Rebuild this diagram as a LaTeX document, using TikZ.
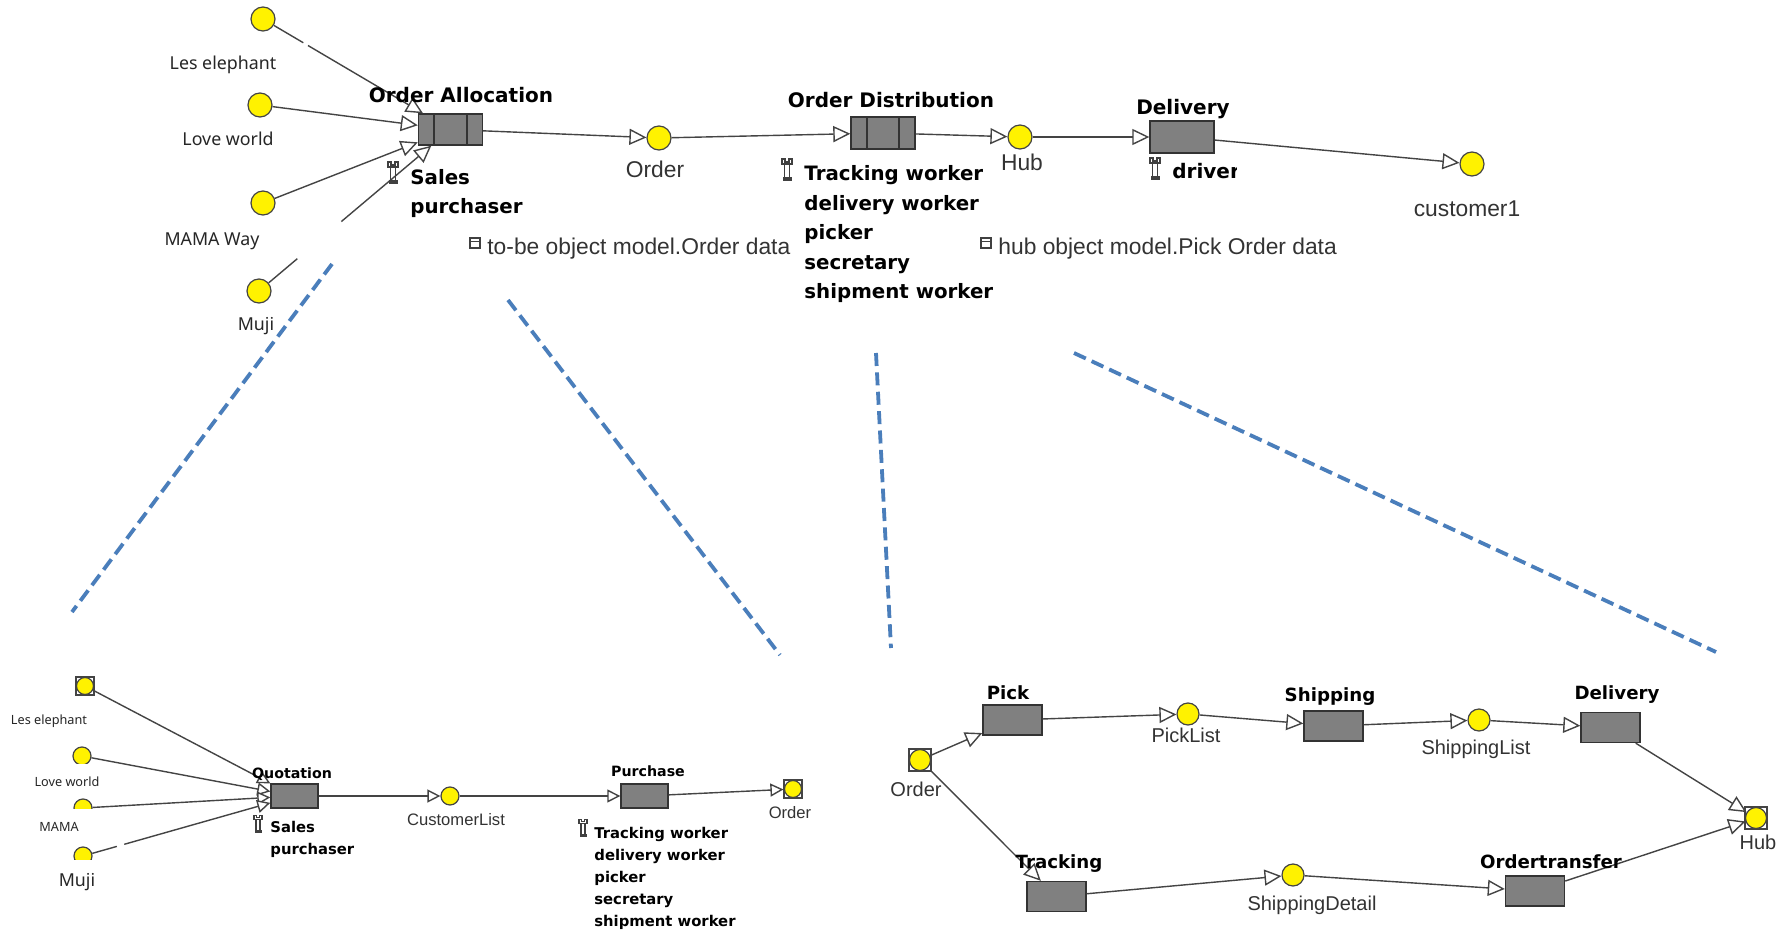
\documentclass[tikz,border=0pt]{standalone}
\usepackage{fontspec}
\setmainfont{Liberation Sans}
\newfontfamily\vbold{DejaVu Sans}
\newfontfamily\noto{Noto Sans}
\usetikzlibrary{arrows.meta,calc}
\definecolor{lin}{HTML}{444444}
\definecolor{dashblue}{HTML}{4A7EBB}
\definecolor{boxgray}{HTML}{808080}
\newcommand\fs[1]{\fontsize{#1}{#1}\selectfont}
\newcommand\wrenchicon[2][1]{\begin{scope}[shift={(#2)},scale=#1,line width=.55pt,draw=black!75]
  \draw (-5,-11) -- (-5,-6) -- (5,-6) -- (5,-11) -- (2,-11) -- (2,-8) -- (-2,-8) -- (-2,-11) -- cycle;
  \draw (-2.5,-6) -- (-2.5,8) (2.5,-6) -- (2.5,8);
  \fill[black!75] (-4,7) rectangle (5,11);
  \end{scope}}
\newcommand\tableicon[1]{\begin{scope}[shift={(#1)},line width=.55pt]
  \draw[black!75] (-5,-5) rectangle (5,5);
  \draw[black!75] (-5,-1.5) -- (5,-1.5);
  \end{scope}}
\tikzset{
  x=.5pt,y=-.5pt,
  dot/.style={circle,draw=lin,fill=yellow,line width=.6pt,inner sep=0pt,minimum size=#1*1pt},
  dot/.default=12,
  squ/.style={rectangle,draw=lin,fill=white,line width=.6pt,inner sep=0pt,minimum size=#1*1pt},
  proc/.style={rectangle,draw=black!80,fill=boxgray,line width=.7pt,inner sep=0pt,minimum width=#1*1pt},
  conn/.style={draw=lin,line width=.7pt},
  arr/.style={conn,-{Triangle[fill=white,length=8.5pt,width=8pt]}},
  sarr/.style={conn,-{Triangle[fill=white,length=6.5pt,width=6.5pt]}},
  dashln/.style={draw=dashblue,line width=1.9pt,dash pattern=on 6.5pt off 3.2pt},
  lbl/.style={inner sep=0pt,text=black!80,font=\fs{11.4}},
  klbl/.style={inner sep=0pt,text=black!85,font=\noto\fs{8.9}},
  blbl/.style={inner sep=0pt,text=black,font=\vbold\bfseries\fs{10}},
  mlbl/.style={inner sep=0pt,anchor=north west,align=left,text=black,font=\vbold\bfseries\fontsize{9.9}{14.75}\selectfont},
  smlbl/.style={inner sep=0pt,anchor=north west,align=left,text=black,font=\vbold\bfseries\fontsize{7.4}{11}\selectfont},
}
\begin{document}
\begin{tikzpicture}
\useasboundingbox (0,0) rectangle (1789,931);
\fill[white] (0,0) rectangle (1789,931);

% ---------- top diagram
\node[dot] (tLes) at (263,19) {};
\node[dot] (tLove) at (260,105) {};
\node[dot] (tMama) at (263,203) {};
\node[dot] (tMuji) at (259,291) {};
\node[proc=32,minimum height=15.5pt] (tOA) at (450.5,129.5) {};
\draw[black!80,line width=.7pt] (434,114) -- (434,145) (467,114) -- (467,145);
\node[dot] (tOrder) at (659,138) {};
\node[proc=32,minimum height=16pt] (tOD) at (883,133) {};
\draw[black!80,line width=.7pt] (867,117) -- (867,149) (899,117) -- (899,149);
\node[dot] (tHub) at (1020,137) {};
\node[proc=32,minimum height=16pt] (tDel) at (1182,137) {};
\node[dot] (tCust) at (1472,164) {};

\coordinate (tg1) at ($(tLes)!.215!(tOA)$);
\coordinate (tg2) at ($(tLes)!.24!(tOA)$);
\coordinate (tg3) at ($(tMuji)!.20!(tOA)$);
\coordinate (tg4) at ($(tMuji)!.43!(tOA)$);
\draw[conn] (tLes) -- (tg1);
\draw[arr] (tg2) -- (tOA);
\draw[arr] (tLove) -- (tOA);
\draw[arr] (tMama) -- (tOA);
\draw[conn] (tMuji) -- (tg3);
\draw[arr] (tg4) -- (tOA);
\draw[arr] (tOA) -- (tOrder);
\draw[arr] (tOrder) -- (tOD);
\draw[arr] (tOD) -- (tHub);
\draw[arr] (tHub) -- (tDel);
\draw[arr] (tDel) -- (tCust);

\node[klbl] (lLes) at (223,65) {Les elephant};
\node[klbl] (lLove) at (228,139) {Love world};
\node[klbl] (lMama) at (212,241) {MAMA Way};
\node[klbl] (lMuji) at (256,326) {Muji};
\node[blbl] (lOA) at (461,95) {Order Allocation};
\node[mlbl] (lSales) at (410,169) {Sales\\purchaser};
\wrenchicon{393,173}
\node[lbl,anchor=west] (lData1) at (487,248.5) {to-be object model.Order data};
\tableicon{475,243}
\node[lbl] (lOrder) at (655,169) {Order};
\node[blbl] (lOD) at (891,100) {Order Distribution};
\node[mlbl] (lWorkers) at (804,165.5) {Tracking worker\\delivery worker\\picker\\secretary\\shipment worker};
\wrenchicon{787,170}
\node[lbl] (lHub) at (1022,162) {Hub};
\node[lbl,anchor=west] (lData2) at (998,248.5) {hub object model.Pick Order data};
\tableicon{986,243}
\node[blbl] (lDel) at (1183,109) {Delivery};
\fill[white] (1160,115.5) rectangle (1215,120);
\node[blbl,anchor=west] (lDriver) at (1172,171) {driver};
\fill[white] (1237,160) rectangle (1246,182);
\wrenchicon{1155,169}
\node[lbl] (lCust) at (1467,209) {customer1};

% ---------- dashed zoom lines
\coordinate (d1a) at (332,264); \coordinate (d1b) at (72,612);
\coordinate (d2a) at (508,300); \coordinate (d2b) at (780,655);
\coordinate (d3a) at (876,353); \coordinate (d3b) at (891,648);
\coordinate (d4a) at (1074,353); \coordinate (d4b) at (1716,652);
\draw[dashln] (d1a) -- (d1b);
\draw[dashln] (d2a) -- (d2b);
\draw[dashln] (d3a) -- (d3b);
\draw[dashln] (d4a) -- (d4b);

% ---------- bottom-left diagram
\node[squ=9] (aLesS) at (85,686) {};
\node[dot=8.5] (aLes) at (85,686) {};
\begin{scope}
  \clip (60,740) rectangle (110,763);
  \node[dot=9] (aLove) at (82,756) {};
\end{scope}
\begin{scope}
  \clip (60,795) rectangle (110,808);
  \node[dot=9] (aMama) at (83,808) {};
\end{scope}
\begin{scope}
  \clip (60,840) rectangle (110,859);
  \node[dot=9] (aMuji) at (83,856) {};
\end{scope}
\node[proc=23.5,minimum height=12pt] (aQ) at (294.5,796) {};
\node[dot=9] (aCust) at (450,796) {};
\node[proc=23.5,minimum height=12pt] (aP) at (644.5,796) {};
\node[squ=9] (aOrdS) at (793,789) {};
\node[dot=8.5] (aOrd) at (793,789) {};

\coordinate (ag1) at ($(aMuji)!.16!(aQ)$);
\coordinate (ag2) at ($(aMuji)!.195!(aQ)$);
\draw[sarr] (aLes) -- (aQ);
\draw[sarr] (aLove) -- (aQ);
\draw[sarr] (aMama) -- (aQ);
\draw[conn] (aMuji) -- (ag1);
\draw[sarr] (ag2) -- (aQ);
\draw[sarr] (aQ) -- (aCust);
\draw[sarr] (aCust) -- (aP);
\draw[sarr] (aP) -- (aOrdS);

\node[klbl,font=\noto\fs{6.35}] (bLes) at (49,721.5) {Les elephant};
\node[klbl,font=\noto\fs{6.35}] (bLove) at (67,782) {Love world};
\node[klbl,font=\noto\fs{6.35}] (bMama) at (59,827) {MAMA};
\node[klbl] (bMuji) at (77,882) {Muji};
\node[blbl,font=\vbold\bfseries\fs{7.1}] (bQ) at (292,774) {Quotation};
\node[smlbl] (bSales) at (270,820.5) {Sales\\purchaser};
\wrenchicon[.8]{258,824}
\node[lbl,font=\fs{8.3}] (bCust) at (456,819.5) {CustomerList};
\node[blbl,font=\vbold\bfseries\fs{7.1}] (bP) at (648,771) {Purchase};
\node[smlbl] (bWorkers) at (594,826.5) {Tracking worker\\delivery worker\\picker\\secretary\\shipment worker};
\wrenchicon[.8]{583,828}
\node[lbl,font=\fs{8.3}] (bOrd) at (790,813) {Order};

% ---------- bottom-right diagram
\node[squ=11] (cOrdS) at (920,760) {};
\node[dot=10.5] (cOrd) at (920,760) {};
\node[proc=29.5,minimum height=15pt] (cPick) at (1012.5,720) {};
\node[dot=11] (cPL) at (1188,714) {};
\node[proc=29.5,minimum height=15pt] (cShip) at (1333.5,726) {};
\node[dot=11] (cSL) at (1479,720) {};
\node[proc=29.5,minimum height=15pt] (cDel) at (1610.5,727.5) {};
\node[squ=11] (cHubS) at (1756,818) {};
\node[dot=10.5] (cHub) at (1756,818) {};
\node[proc=29.5,minimum height=15pt] (cOT) at (1535,891) {};
\node[dot=11] (cSD) at (1293,875) {};
\node[proc=29.5,minimum height=15pt] (cTr) at (1056.5,896.5) {};

\draw[arr] (cOrd) -- (cPick);
\draw[arr] (cPick) -- (cPL);
\draw[arr] (cPL) -- (cShip);
\draw[arr] (cShip) -- (cSL);
\draw[arr] (cSL) -- (cDel);
\draw[arr] (cDel) -- (cHub);
\draw[arr] (cOrdS) -- (cTr);
\draw[arr] (cTr) -- (cSD);
\draw[arr] (cSD) -- (cOT);
\draw[arr] (cOT) -- (cHub);

\node[lbl,font=\fs{10}] (eOrd) at (916,789) {Order};
\node[blbl,font=\vbold\bfseries\fs{9.1}] (ePick) at (1008,693) {Pick};
\node[lbl,font=\fs{10}] (ePL) at (1186,735) {PickList};
\node[blbl,font=\vbold\bfseries\fs{9.1}] (eShip) at (1330,696.5) {Shipping};
\node[lbl,font=\fs{10}] (eSL) at (1476,749.5) {ShippingList};
\node[blbl,font=\vbold\bfseries\fs{9.1}] (eDel) at (1617,694.5) {Delivery};
\node[lbl,font=\fs{10}] (eHub) at (1758,842) {Hub};
\node[blbl,font=\vbold\bfseries\fs{9.1}] (eOT) at (1551,862) {Ordertransfer};
\node[lbl,font=\fs{10}] (eSD) at (1312,905.5) {ShippingDetail};
\node[blbl,font=\vbold\bfseries\fs{9.1}] (eTr) at (1059,864) {Tracking};
\end{tikzpicture}
\end{document}
